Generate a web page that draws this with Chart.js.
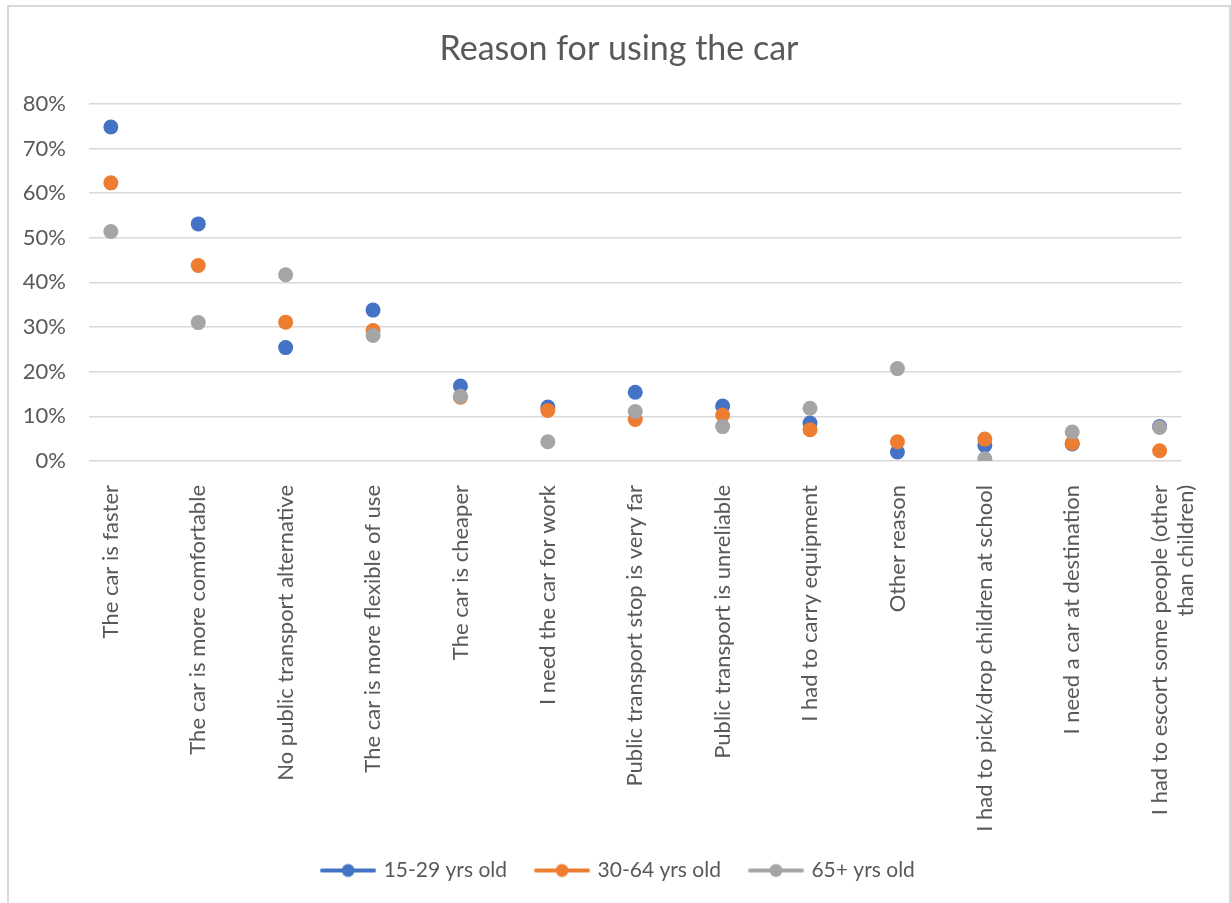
<!DOCTYPE html>
<html lang="en">
<head>
    <meta charset="UTF-8">
    <title>Reason for using the car</title>
    <script src="https://cdn.jsdelivr.net/npm/chart.js"></script>
    <style>
        body {
            margin: 0;
            background: #ffffff;
            overflow: hidden;
        }
        .chart-box {
            position: absolute;
            left: 7px;
            top: 5px;
            width: 1220px;
            height: 905px;
            border: 2px solid #d9d9d9;
        }
    </style>
</head>
<body>

<div class="chart-box">
    <canvas id="chart"></canvas>
</div>

<script>
    const categories = [
        'The car is faster',
        'The car is more comfortable',
        'No public transport alternative',
        'The car is more flexible of use',
        'The car is cheaper',
        'I need the car for work',
        'Public transport stop is very far',
        'Public transport is unreliable',
        'I had to carry equipment',
        'Other reason',
        'I had to pick/drop children at school',
        'I need a car at destination',
        ['I had to escort some people (other', 'than children)']
    ];
    const seriesNames = ['15-29 yrs old', '30-64 yrs old', '65+ yrs old'];
    const seriesColors = ['#4472c4', '#ed7d31', '#a5a5a5'];

    // shares (0..1)
    const age15to29 = [0.748, 0.531, 0.254, 0.338, 0.168, 0.121, 0.154, 0.123, 0.085, 0.020, 0.035, 0.038, 0.077];
    const age30to64 = [0.623, 0.438, 0.311, 0.292, 0.143, 0.113, 0.093, 0.103, 0.070, 0.043, 0.049, 0.040, 0.023];
    const age65plus = [0.514, 0.310, 0.417, 0.281, 0.145, 0.043, 0.111, 0.077, 0.118, 0.207, 0.005, 0.065, 0.075];

    const yTicks = [0, 0.1, 0.2, 0.3, 0.4, 0.5, 0.6, 0.7, 0.8];

    const textColor = '#595959';
    const fontName = 'Lato, "Noto Sans", sans-serif';

    // legend marker: short line with a dot, like the Excel legend
    function legendMarker(color) {
        const c = document.createElement('canvas');
        c.width = 56;
        c.height = 16;
        const g = c.getContext('2d');
        g.strokeStyle = color;
        g.lineWidth = 4;
        g.lineCap = 'round';
        g.beginPath();
        g.moveTo(2, 8);
        g.lineTo(54, 8);
        g.stroke();
        g.fillStyle = color;
        g.beginPath();
        g.arc(28, 8, 6.5, 0, Math.PI * 2);
        g.fill();
        return c;
    }

    function toPoints(values) {
        return values.map((v, i) => ({ x: i + 1, y: v }));
    }

    const allSeries = [age15to29, age30to64, age65plus];
    // gray drawn on top, then orange, then blue (lower order = drawn last)
    const datasets = allSeries.map((values, i) => ({
        label: seriesNames[i],
        data: toPoints(values),
        backgroundColor: seriesColors[i],
        borderColor: seriesColors[i],
        borderWidth: 0,
        pointRadius: 7.5,
        pointHoverRadius: 7.5,
        order: 2 - i
    }));

    const ctx = document.getElementById('chart').getContext('2d');
    new Chart(ctx, {
        type: 'scatter',
        data: { datasets: datasets },
        options: {
            responsive: true,
            maintainAspectRatio: false,
            animation: false,
            layout: {
                padding: { left: 0, right: 0, top: 0, bottom: 21 }
            },
            plugins: {
                title: {
                    display: true,
                    text: 'Reason for using the car',
                    color: textColor,
                    font: { family: fontName, size: 34, weight: 'normal', lineHeight: 1.2 },
                    padding: { top: 22, bottom: 34 }
                },
                legend: {
                    position: 'bottom',
                    labels: {
                        color: textColor,
                        font: { family: fontName, size: 21 },
                        usePointStyle: true,
                        pointStyleWidth: 50,
                        padding: 30,
                        generateLabels: () => seriesNames.map((name, i) => ({
                            text: name,
                            fillStyle: seriesColors[i],
                            strokeStyle: seriesColors[i],
                            lineWidth: 0,
                            pointStyle: legendMarker(seriesColors[i]),
                            fontColor: textColor,
                            hidden: false,
                            datasetIndex: i
                        }))
                    }
                },
                tooltip: { enabled: false }
            },
            scales: {
                x: {
                    type: 'linear',
                    bounds: 'data',
                    min: 0.75,
                    max: 13.25,
                    afterBuildTicks: scale => {
                        scale.ticks = categories.map((c, i) => ({ value: i + 1 }));
                    },
                    afterFit: scale => { scale.height = 369; },
                    grid: { display: false },
                    border: { display: false },
                    ticks: {
                        autoSkip: false,
                        maxRotation: 90,
                        minRotation: 90,
                        padding: 16,
                        color: textColor,
                        font: { family: fontName, size: 22 },
                        callback: value => categories[Math.round(value) - 1]
                    }
                },
                y: {
                    min: 0,
                    max: 0.8,
                    afterBuildTicks: scale => {
                        scale.ticks = yTicks.map(v => ({ value: v }));
                    },
                    afterFit: scale => { scale.width = 80; },
                    grid: { color: '#d9d9d9', lineWidth: 1.5, drawTicks: false },
                    border: { display: false },
                    ticks: {
                        padding: 23,
                        color: textColor,
                        font: { family: fontName, size: 22 },
                        callback: value => Math.round(value * 100) + '%'
                    }
                },
                // empty right-hand axis, only keeps the gap on the right of the plot
                yRight: {
                    position: 'right',
                    afterFit: scale => { scale.width = 29; },
                    grid: { display: false },
                    border: { display: false },
                    ticks: { display: false }
                }
            }
        }
    });
</script>

</body>
</html>
